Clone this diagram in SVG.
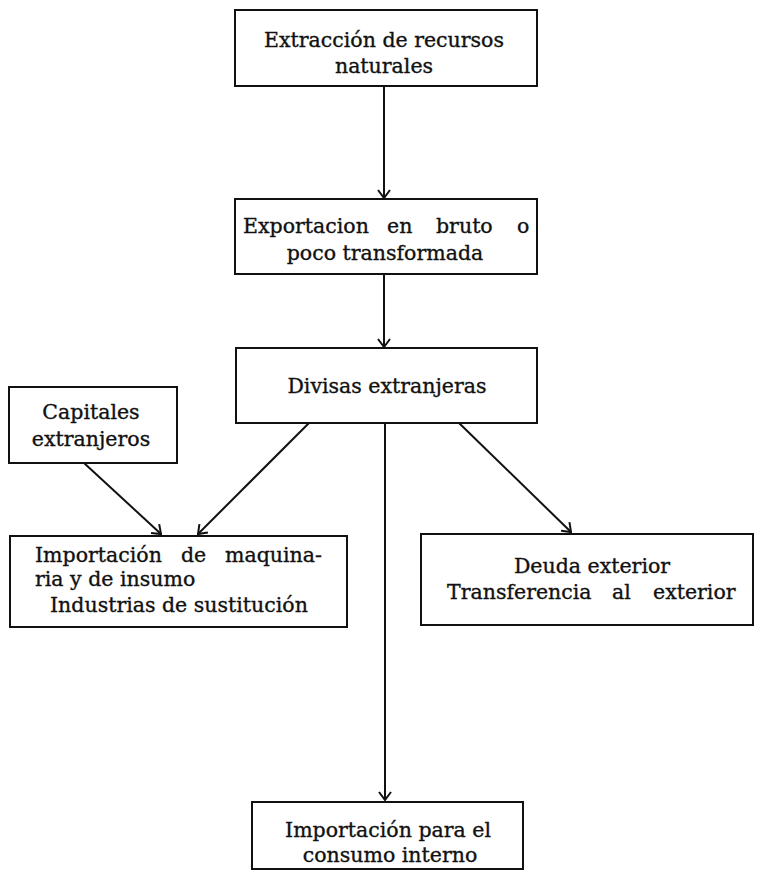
<svg xmlns="http://www.w3.org/2000/svg" width="757" height="872" viewBox="0 0 757 872">
<style>
.box{fill:#fff;stroke:#111;stroke-width:2}
.t{font-family:"DejaVu Serif","Liberation Serif",serif;font-size:20.5px;fill:#111;stroke:#111;stroke-width:0.35}
.c{text-anchor:middle}
.ln{stroke:#111;stroke-width:2;fill:none}
</style>
<defs>
<marker id="ah" viewBox="0 0 10 14" refX="9" refY="7" markerWidth="10" markerHeight="14" markerUnits="userSpaceOnUse" orient="auto">
<path d="M1,1 L9,7 L1,13" fill="none" stroke="#111" stroke-width="2"/>
</marker>
</defs>
<g id="connectors">
<line class="ln" x1="384" y1="86" x2="384" y2="198" marker-end="url(#ah)"/>
<line class="ln" x1="384" y1="274" x2="384" y2="347" marker-end="url(#ah)"/>
<line class="ln" x1="309" y1="423" x2="198" y2="534" marker-end="url(#ah)"/>
<line class="ln" x1="84" y1="463" x2="161" y2="534" marker-end="url(#ah)"/>
<line class="ln" x1="459" y1="423" x2="571" y2="532" marker-end="url(#ah)"/>
<line class="ln" x1="385" y1="423" x2="385" y2="800" marker-end="url(#ah)"/>
</g>
<g id="extraccion">
<rect class="box" x="235" y="10" width="302" height="76"/>
<text class="t c" x="384" y="47">Extracción de recursos</text>
<text class="t c" x="384" y="73">naturales</text>
</g>
<g id="exportacion">
<rect class="box" x="235" y="199" width="302" height="75"/>
<text class="t" y="233"><tspan x="243">Exportacion</tspan><tspan x="387">en</tspan><tspan x="436">bruto</tspan><tspan x="517">o</tspan></text>
<text class="t c" x="385" y="260">poco transformada</text>
</g>
<g id="divisas">
<rect class="box" x="236" y="348" width="301" height="75"/>
<text class="t c" x="387" y="393">Divisas extranjeras</text>
</g>
<g id="capitales">
<rect class="box" x="9" y="387" width="168" height="76"/>
<text class="t c" x="91" y="419">Capitales</text>
<text class="t c" x="91" y="446">extranjeros</text>
</g>
<g id="importacion-maquinaria">
<rect class="box" x="10" y="536" width="337" height="91"/>
<text class="t" y="562"><tspan x="35">Importación</tspan><tspan x="181">de</tspan><tspan x="225">maquina-</tspan></text>
<text class="t" x="35" y="586">ria y de insumo</text>
<text class="t" x="50" y="612">Industrias de sustitución</text>
</g>
<g id="deuda">
<rect class="box" x="421" y="534" width="332" height="91"/>
<text class="t c" x="592" y="573">Deuda exterior</text>
<text class="t" y="599"><tspan x="447">Transferencia</tspan><tspan x="612">al</tspan><tspan x="653">exterior</tspan></text>
</g>
<g id="importacion-consumo">
<rect class="box" x="252" y="802" width="271" height="67"/>
<text class="t c" x="388" y="837">Importación para el</text>
<text class="t c" x="390" y="862">consumo interno</text>
</g>
</svg>
